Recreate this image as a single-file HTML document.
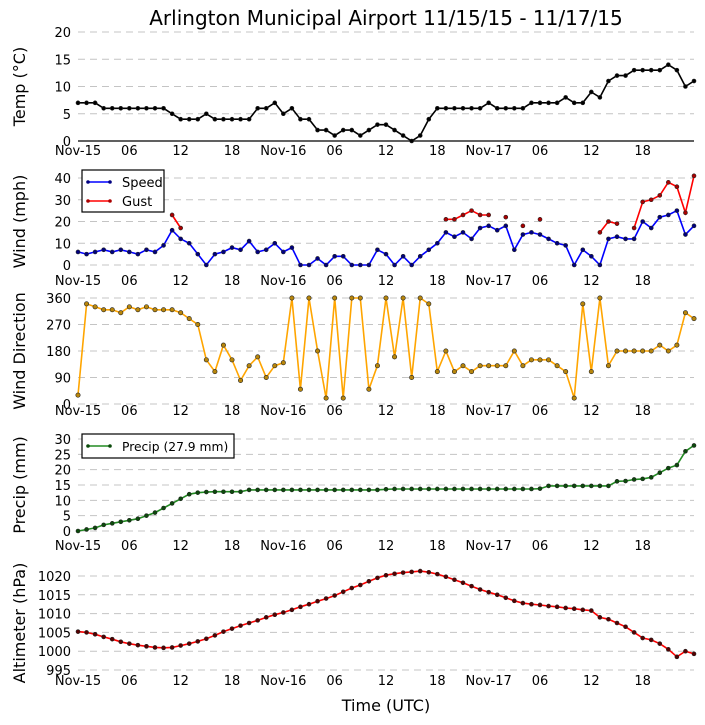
<!DOCTYPE html>
<html><head><meta charset="utf-8"><style>
body{margin:0;background:#fff;}
svg{display:block;font-family:"DejaVu Sans","Liberation Sans",sans-serif;}
</style></head><body>
<svg id="chart" width="705" height="725" viewBox="0 0 705 725" xmlns="http://www.w3.org/2000/svg">
<text x="386" y="25" font-size="20" text-anchor="middle">Arlington Municipal Airport 11/15/15 - 11/17/15</text>
<text x="386" y="711" font-size="16" text-anchor="middle">Time (UTC)</text>
</svg>
<script>
const hours = [0,1,2,3,4,5,6,7,8,9,10,11,12,13,14,15,16,17,18,19,20,21,22,23,24,25,26,27,28,29,30,31,32,33,34,35,36,37,38,39,40,41,42,43,44,45,46,47,48,49,50,51,52,53,54,55,56,57,58,59,60,61,62,63,64,65,66,67,68,69,70,71,72];
const tempC = [7,7,7,6,6,6,6,6,6,6,6,5,4,4,4,5,4,4,4,4,4,6,6,7,5,6,4,4,2,2,1,2,2,1,2,3,3,2,1,0,1,4,6,6,6,6,6,6,7,6,6,6,6,7,7,7,7,8,7,7,9,8,11,12,12,13,13,13,13,14,13,10,11];
const windSpeed = [6,5,6,7,6,7,6,5,7,6,9,16,12,10,5,0,5,6,8,7,11,6,7,10,6,8,0,0,3,0,4,4,0,0,0,7,5,0,4,0,4,7,10,15,13,15,12,17,18,16,18,7,14,15,14,12,10,9,0,7,4,0,12,13,12,12,20,17,22,23,25,14,18];
const windGust = [null,null,null,null,null,null,null,null,null,null,null,23,17,null,null,null,null,null,null,null,null,null,null,null,null,null,null,null,null,null,null,null,null,null,null,null,null,null,null,null,null,null,null,21,21,23,25,23,23,null,22,null,18,null,21,null,null,null,null,null,null,15,20,19,null,17,29,30,32,38,36,24,41];
const windDir = [30,340,330,320,320,310,330,320,330,320,320,320,310,290,270,150,110,200,150,80,130,160,90,130,140,360,50,360,180,20,360,20,360,360,50,130,360,160,360,90,360,340,110,180,110,130,110,130,130,130,130,180,130,150,150,150,130,110,20,340,110,360,130,180,180,180,180,180,200,180,200,310,290];
const precip = [0,0.5,1,2,2.5,3,3.5,4,5,6,7.5,9,10.5,12,12.5,12.7,12.8,12.8,12.8,12.8,13.4,13.4,13.4,13.4,13.4,13.4,13.4,13.4,13.4,13.4,13.4,13.4,13.4,13.4,13.4,13.4,13.6,13.7,13.7,13.7,13.7,13.7,13.7,13.7,13.7,13.7,13.7,13.7,13.7,13.7,13.7,13.7,13.7,13.7,13.8,14.7,14.7,14.7,14.7,14.7,14.7,14.7,14.7,16.2,16.3,16.8,17,17.5,19,20.5,21.5,26,27.9];
const altimeter = [1005.2,1005,1004.5,1003.8,1003.2,1002.5,1002,1001.6,1001.3,1001,1000.9,1001,1001.5,1002,1002.6,1003.3,1004.2,1005.2,1006,1006.8,1007.5,1008.2,1009,1009.7,1010.3,1011,1011.8,1012.5,1013.3,1014,1014.8,1015.8,1016.8,1017.6,1018.6,1019.5,1020.2,1020.6,1020.9,1021.1,1021.3,1021,1020.5,1019.8,1019,1018.2,1017.3,1016.4,1015.7,1015,1014.2,1013.4,1012.8,1012.5,1012.3,1012,1011.8,1011.5,1011.3,1011,1010.8,1009,1008.5,1007.5,1006.5,1005,1003.5,1003,1002,1000.5,998.5,1000,999.3];
const xTickHours = [0,6,12,18,24,30,36,42,48,54,60,66];
const xTickLabels = ["Nov-15","06","12","18","Nov-16","06","12","18","Nov-17","06","12","18"];
const tempTicks = [0,5,10,15,20];
const windTicks = [0,10,20,30,40];
const dirTicks = [0,90,180,270,360];
const precipTicks = [0,5,10,15,20,25,30];
const altTicks = [995,1000,1005,1010,1015,1020];

const NS="http://www.w3.org/2000/svg";
const svg=document.getElementById('chart');
const X0=78,X1=694;
function xs(h){return X0+(h/72)*(X1-X0);}
function mk(tag,attrs,parent){const e=document.createElementNS(NS,tag);for(const k in attrs)e.setAttribute(k,attrs[k]);(parent||svg).appendChild(e);return e;}

const panels=[
 {key:'temp',title:'Temp (\u00B0C)',v0:0,y0:141,v1:20,y1:32,ticks:tempTicks,xlab:155,zeroLine:true},
 {key:'wind',title:'Wind (mph)',v0:0,y0:265,v1:40,y1:178,ticks:windTicks,xlab:285},
 {key:'dir',title:'Wind Direction',v0:0,y0:404,v1:360,y1:298,ticks:dirTicks,xlab:415},
 {key:'precip',title:'Precip (mm)',v0:0,y0:531,v1:30,y1:439,ticks:precipTicks,xlab:550},
 {key:'alt',title:'Altimeter (hPa)',v0:995,y0:670,v1:1020,y1:576,ticks:altTicks,xlab:685}
];
panels.forEach(p=>{
 p.ys=v=>p.y0+(v-p.v0)*(p.y1-p.y0)/(p.v1-p.v0);
 const g=mk('g',{});
 
 
 p.ticks.forEach(t=>{
  const y=p.ys(t);
  const gl=mk('line',{x1:X0,x2:X1,y1:y,y2:y,stroke:'#c4c4c4','stroke-width':1,'stroke-dasharray':'7,5'},g);
  
  
  const tl=mk('text',{x:71,y:y+5,'font-size':13,'text-anchor':'end'},g);
  tl.textContent=t;
  
  
 });
 if(p.zeroLine){const zl=mk('line',{x1:X0,x2:X1,y1:p.ys(0),y2:p.ys(0),stroke:'#000','stroke-width':1.2},g);
  
  }
 xTickHours.forEach((h,i)=>{
  const t=mk('text',{x:xs(h),y:p.xlab,'font-size':13,'text-anchor':'middle'},g);
  t.textContent=xTickLabels[i];
  
  
 });
 const cy=(p.y0+p.y1)/2;
 const at=mk('text',{x:25,y:cy,'font-size':16,'text-anchor':'middle',transform:`rotate(-90 25 ${cy})`},g);
 at.textContent=p.title;
 
 
});

function series(p,vals,color,mcol,name,r){
 const g=mk('g',{});
 
 
 let d='',pen=false;
 vals.forEach((v,i)=>{
  if(v===null){pen=false;return;}
  d+=(pen?'L':'M')+xs(hours[i]).toFixed(1)+','+p.ys(v).toFixed(1);pen=true;
 });
 const pa=mk('path',{d:d,fill:'none',stroke:color,'stroke-width':1.6},g);
 
 
 vals.forEach((v,i)=>{
  if(v===null)return;
  const c=mk('circle',{cx:xs(hours[i]),cy:p.ys(v),r:r||2,fill:mcol,stroke:'#222','stroke-width':0.6},g);
  
  
 });
}
series(panels[0],tempC,'#000','#000','temperature-series');
series(panels[1],windSpeed,'#0000ff','#000080','wind-speed-series');
series(panels[1],windGust,'#ff0000','#aa0000','wind-gust-series');
series(panels[2],windDir,'#ffa500','#b8860b','wind-direction-series',2.2);
series(panels[3],precip,'#228b22','#0b4a0b','precip-series');
series(panels[4],altimeter,'#ff0000','#550000','altimeter-series');

function legend(x,y,w,h,items,name,fs){
 const g=mk('g',{});
 
 
 mk('rect',{x:x,y:y,width:w,height:h,fill:'#fff',stroke:'#000','stroke-width':1.2},g);
 items.forEach((it,i)=>{
  const yy=y+12+i*19;
  mk('line',{x1:x+6,x2:x+28,y1:yy,y2:yy,stroke:it.c,'stroke-width':1.6},g);
  mk('circle',{cx:x+6,cy:yy,r:1.8,fill:it.m},g);
  mk('circle',{cx:x+28,cy:yy,r:1.8,fill:it.m},g);
  const t=mk('text',{x:x+40,y:yy+5,'font-size':fs||13},g);
  t.textContent=it.t;
  
  
 });
}
legend(82,170,82,42,[{c:'#0000ff',m:'#000080',t:'Speed'},{c:'#ff0000',m:'#aa0000',t:'Gust'}],'wind-legend');
legend(82,434,152,24,[{c:'#228b22',m:'#0b4a0b',t:'Precip (27.9 mm)'}],'precip-legend',12.3);
</script>
</body></html>
